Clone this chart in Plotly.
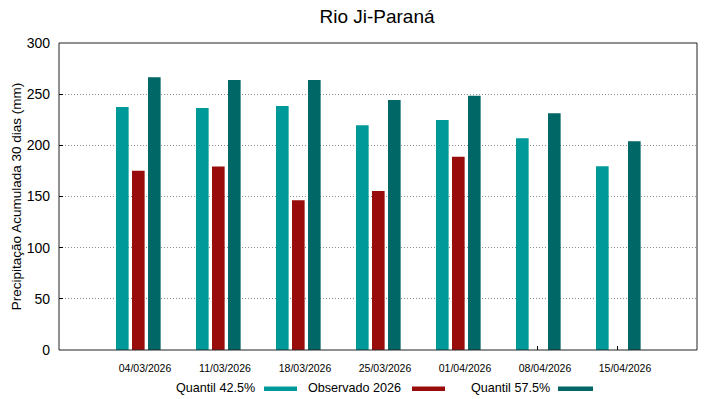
import plotly.graph_objects as go

dates = ["04/03/2026", "11/03/2026", "18/03/2026", "25/03/2026", "01/04/2026", "08/04/2026", "15/04/2026"]
q425 = [237.5, 236.5, 238.4, 219.6, 224.8, 206.8, 179.5]
obs2026 = [175.2, 179.2, 146.3, 155.4, 188.9, None, None]
q575 = [266.5, 263.9, 263.9, 244.3, 248.5, 231.3, 203.9]
yticks = [0, 50, 100, 150, 200, 250, 300]

names = ["Quantil 42.5%", "Observado 2026", "Quantil 57.5%"]
colors = ["#009999", "#990c0c", "#006666"]
series = [q425, obs2026, q575]
offsets = [-0.2625, -0.0625, 0.1375]

idx = list(range(len(dates)))
FONT = "Liberation Sans, Arial, sans-serif"

fig = go.Figure()
for name, col, vals, off in zip(names, colors, series, offsets):
    fig.add_trace(go.Bar(
        x=idx, y=vals, name=name, width=0.158, offset=off,
        marker=dict(color=col, line=dict(width=0)),
        showlegend=False,
    ))

W, H = 719, 399
L, R, T, B = 59, 22, 43, 49
pw, ph = W - L - R, H - T - B

def px(xp):
    return (xp - L) / pw

def py(yp):
    return (H - B - yp) / ph

# legend (gnuplot style: text then sample)
leg = [("Quantil 42.5%", 257, 264, 297, colors[0]),
       ("Observado 2026", 403, 412, 445, colors[1]),
       ("Quantil 57.5%", 552, 558, 593, colors[2])]
annotations = []
shapes = []
for txt, tx, s0, s1, col in leg:
    annotations.append(dict(text=txt, x=px(tx), y=py(388), xref="paper", yref="paper",
                            xanchor="right", yanchor="middle", showarrow=False,
                            font=dict(size=12.6, color="black", family=FONT)))
    shapes.append(dict(type="rect", xref="paper", yref="paper",
                       x0=px(s0), x1=px(s1), y0=py(386.5), y1=py(391),
                       fillcolor=col, line=dict(width=0), layer="above"))
shapes.append(dict(type="rect", xref="paper", yref="paper", x0=0, x1=1, y0=0, y1=1,
                   line=dict(color="#222222", width=1), layer="above"))

fig.update_layout(
    width=W, height=H,
    margin=dict(l=L, r=R, t=T, b=B, autoexpand=False),
    paper_bgcolor="white", plot_bgcolor="white",
    barmode="overlay",
    font=dict(family=FONT, color="black"),
    title=dict(text="Rio Ji-Paraná", x=(377) / W, xanchor="center", y=1 - 16 / H, yanchor="middle",
               font=dict(size=19, family=FONT, color="black")),
    annotations=annotations, shapes=shapes,
    xaxis=dict(range=[-0.975, 7.0], tickmode="array", tickvals=idx, ticktext=dates,
               showgrid=False, zeroline=False, showline=False,
               ticks="inside", ticklen=4, tickcolor="black", tickwidth=1,
               ticklabelshift=8, ticklabelstandoff=10,
               tickfont=dict(size=10.5, family=FONT, color="black"),
               layer="below traces"),
    yaxis=dict(range=[0, 300], tickmode="array", tickvals=yticks,
               showgrid=True, gridcolor="#8c8c8c", griddash="1px,2px", gridwidth=1,
               zeroline=False, showline=False,
               ticks="inside", ticklen=4, tickcolor="black", tickwidth=1,
               ticklabelstandoff=8,
               tickfont=dict(size=14, family=FONT, color="black"),
               title=dict(text="Precipitação Acumulada 30 dias (mm)", standoff=1,
                          font=dict(size=13.5, family=FONT, color="black")),
               layer="below traces"),
)

fig.write_html("out.html", config={"displayModeBar": False},
               post_script="document.body.style.margin='0';document.body.style.overflow='hidden';")
